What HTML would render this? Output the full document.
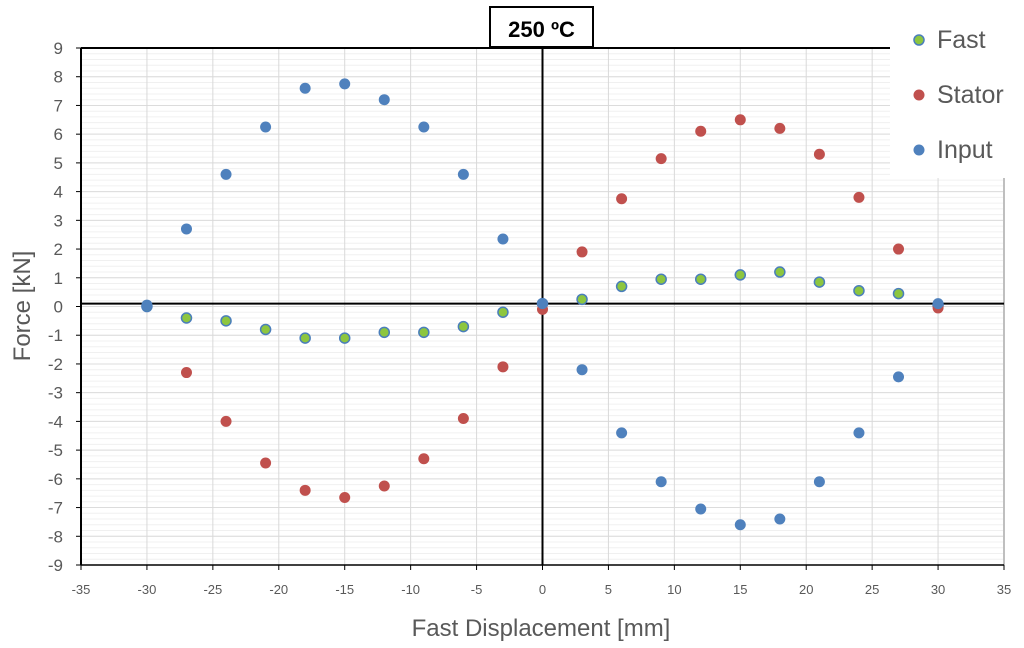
<!DOCTYPE html>
<html><head><meta charset="utf-8"><style>
body{margin:0;background:#fff;}
svg{display:block;font-family:"Liberation Sans",sans-serif;}
</style></head><body>
<svg id="chart" width="1024" height="648">
<g id="grid"></g>
<g id="axes"></g>
<g id="marks"></g>
<rect x="890" y="18" width="125" height="160" fill="#fff"/>
<g>
<g><circle cx="919" cy="40" r="5" fill="#8dc63f" stroke="#4a7ebb" stroke-width="1.5"/><text x="937" y="48" font-size="25" fill="#595959">Fast</text></g>
<g><circle cx="919" cy="95" r="5.5" fill="#c0504d"/><text x="937" y="103" font-size="25" fill="#595959">Stator</text></g>
<g><circle cx="919" cy="150" r="5.5" fill="#4f81bd"/><text x="937" y="158" font-size="25" fill="#595959">Input</text></g>
</g>
<g><rect x="490" y="7" width="103" height="40" fill="#fff" stroke="#000" stroke-width="2"/><text x="541.5" y="37" font-size="22" font-weight="bold" text-anchor="middle">250 ºC</text></g>
<text x="541" y="636" font-size="24" fill="#595959" text-anchor="middle">Fast Displacement [mm]</text>
<text transform="translate(30,306) rotate(-90)" font-size="24" fill="#595959" text-anchor="middle">Force [kN]</text>
</svg>
<script>
const xsLeft=[-30,-27,-24,-21,-18,-15,-12,-9,-6,-3,0,3,6,9,12,15,18,21,24,27,30];
const fastY=[0,-0.4,-0.5,-0.8,-1.1,-1.1,-0.9,-0.9,-0.7,-0.2,0.1,0.25,0.7,0.95,0.95,1.1,1.2,0.85,0.55,0.45,0.05];
const statorX=[-27,-24,-21,-18,-15,-12,-9,-6,-3,0,3,6,9,12,15,18,21,24,27,30];
const statorY=[-2.3,-4.0,-5.45,-6.4,-6.65,-6.25,-5.3,-3.9,-2.1,-0.1,1.9,3.75,5.15,6.1,6.5,6.2,5.3,3.8,2.0,-0.05];
const inputY=[0.05,2.7,4.6,6.25,7.6,7.75,7.2,6.25,4.6,2.35,0.1,-2.2,-4.4,-6.1,-7.05,-7.6,-7.4,-6.1,-4.4,-2.45,0.1];
const xTicks=[-35,-30,-25,-20,-15,-10,-5,0,5,10,15,20,25,30,35];
const yTicks=[9,8,7,6,5,4,3,2,1,0,-1,-2,-3,-4,-5,-6,-7,-8,-9];
const L=81,R=1004,T=48,B=565;
const sx=v=>L+(v+35)/70*(R-L);
const sy=v=>T+(9-v)/18*(B-T);
const NS="http://www.w3.org/2000/svg";
function mk(tag,attrs,parent){const e=document.createElementNS(NS,tag);for(const k in attrs)e.setAttribute(k,attrs[k]);parent.appendChild(e);return e;}
const grid=document.getElementById('grid'),axes=document.getElementById('axes'),marks=document.getElementById('marks');
for(let v=-9;v<=9.001;v+=0.2){const y=sy(v);mk('line',{x1:L,x2:R,y1:y,y2:y,stroke:'#f0f0f0','stroke-width':1},grid);}
yTicks.forEach(v=>{const y=sy(v);mk('line',{x1:L,x2:R,y1:y,y2:y,stroke:'#dcdcdc','stroke-width':1},grid);
const t=mk('text',{x:63,y:y+6,'font-size':17,fill:'#595959','text-anchor':'end'},axes);t.textContent=v;


mk('line',{x1:L-5,x2:L,y1:y,y2:y,stroke:'#000'},axes);});
xTicks.forEach(v=>{const x=sx(v);mk('line',{x1:x,x2:x,y1:T,y2:B,stroke:'#d9d9d9','stroke-width':1},grid);
const t=mk('text',{x:x,y:594,'font-size':13,fill:'#595959','text-anchor':'middle'},axes);t.textContent=v;


mk('line',{x1:x,x2:x,y1:B,y2:B+5,stroke:'#000'},axes);});
mk('line',{x1:R,x2:R,y1:T,y2:B,stroke:'#bfbfbf','stroke-width':2},axes);
mk('line',{x1:L,x2:L,y1:T,y2:B,stroke:'#000','stroke-width':2},axes);
mk('line',{x1:L,x2:R,y1:T,y2:T,stroke:'#000','stroke-width':2},axes);
mk('line',{x1:L,x2:R,y1:B,y2:B,stroke:'#000','stroke-width':1.5},axes);
mk('line',{x1:L,x2:R,y1:sy(0.1),y2:sy(0.1),stroke:'#000','stroke-width':2},axes);
mk('line',{x1:sx(0),x2:sx(0),y1:T,y2:B,stroke:'#000','stroke-width':2},axes);
xsLeft.forEach((x,i)=>{const c=mk('circle',{cx:sx(x),cy:sy(fastY[i]),r:5,fill:'#8dc63f',stroke:'#4a7ebb','stroke-width':1.5},marks);

});
statorX.forEach((x,i)=>{const c=mk('circle',{cx:sx(x),cy:sy(statorY[i]),r:5.5,fill:'#c0504d'},marks);

});
xsLeft.forEach((x,i)=>{const c=mk('circle',{cx:sx(x),cy:sy(inputY[i]),r:5.5,fill:'#4f81bd'},marks);

});
</script>
</body></html>
